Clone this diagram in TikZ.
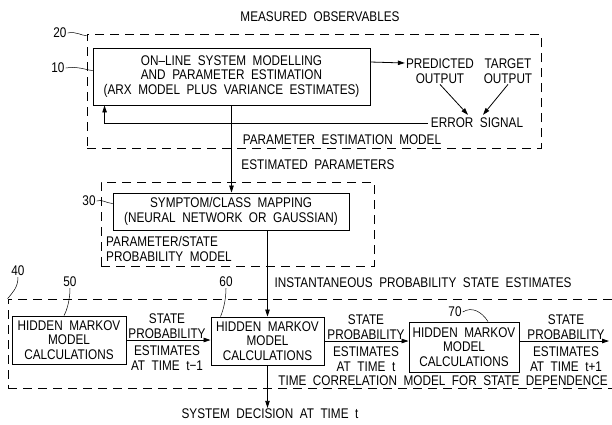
\documentclass[tikz,border=0pt]{standalone}
\usepackage{fontspec}
\setmainfont{Liberation Sans}[FakeStretch=0.84, WordSpace=2]
\usetikzlibrary{arrows.meta, positioning}
\tikzset{
  block/.style={rectangle, draw, line width=0.9pt, align=center, inner sep=2pt},
  dashbox/.style={rectangle, draw, dash pattern=on 9pt off 6pt, line width=0.8pt},
  lbl/.style={align=center, inner sep=1pt},
  arrow/.style={-{Triangle[length=7pt,width=4.5pt]}, line width=0.8pt},
  lead/.style={line width=0.5pt},
}

\begin{document}
\begin{tikzpicture}[x=1pt, y=-1pt, font=\fontsize{14}{14.5}\selectfont]
  \useasboundingbox (0,0) rectangle (612,424);
  % parameter estimation model
  \node[lbl] (meas) at (320,17) {MEASURED OBSERVABLES};
  \node[dashbox, minimum width=454, minimum height=114] (b20) at (314,91) {};
  \node[block, minimum width=277, minimum height=57] (b10) at (231.5,76.5)
    {ON–LINE SYSTEM MODELLING\\AND PARAMETER ESTIMATION\\(ARX MODEL PLUS VARIANCE ESTIMATES)};
  \node[lbl] (pred) at (440,71) {PREDICTED\\OUTPUT};
  \node[lbl] (targ) at (508,71) {TARGET\\OUTPUT};
  \node[lbl] (err) at (477,123) {ERROR SIGNAL};
  \node[lbl] (pem) at (342,140) {PARAMETER ESTIMATION MODEL};
  \node[lbl] (l20) at (60,33) {20};
  \node[lbl] (l10) at (58,68) {10};

  \draw[arrow] ([yshift=14.5pt]b10.east) -- ([yshift=8pt]pred.west);
  \draw[arrow] (pred.south) -- ([xshift=-9pt,yshift=2pt]err.north);
  \draw[arrow] (targ.south) -- ([xshift=6pt,yshift=2pt]err.north);
  \draw[arrow] ([xshift=-2pt]err.west) -| ([xshift=12pt]b10.south west);
  \draw[lead] (l20.east) .. controls (76,31) and (82,36) .. ([yshift=-2pt]b20.north west);
  \draw[lead] (l10.east) .. controls (78,66) and (86,70) .. ([yshift=6pt]b10.west);

  % state probability model
  \node[lbl] (estp) at (318,165) {ESTIMATED PARAMETERS};
  \node[dashbox, minimum width=273, minimum height=84] (b30) at (237.5,224) {};
  \node[block, minimum width=236, minimum height=37] (sym) at (231,211.5)
    {SYMPTOM/CLASS MAPPING\\(NEURAL NETWORK OR GAUSSIAN)};
  \node[lbl, align=left, anchor=west] (psm) at (105,249) {PARAMETER/STATE\\PROBABILITY MODEL};
  \node[lbl] (l30) at (89,201) {30};

  \draw[arrow] (b10.south) -- (b10.south |- sym.north);
  \draw[lead] (l30.east) .. controls (102,199) and (106,203) .. ([yshift=8pt]sym.west);

  % time correlation model
  \node[lbl] (inst) at (423,283) {INSTANTANEOUS PROBABILITY STATE ESTIMATES};
  \node[dashbox, minimum width=640, minimum height=89] (b40) at (328,343.5) {};
  \node[block, minimum width=114, minimum height=48] (h50) at (69,340)
    {HIDDEN MARKOV\\MODEL\\CALCULATIONS};
  \node[block, minimum width=113, minimum height=48] (h60) at (267.5,341)
    {HIDDEN MARKOV\\MODEL\\CALCULATIONS};
  \node[block, minimum width=110, minimum height=50] (h70) at (464,347)
    {HIDDEN MARKOV\\MODEL\\CALCULATIONS};
  \coordinate (out) at (609,341);
  \node[lbl] (sp1) at (167,326) {STATE\\PROBABILITY};
  \node[lbl] (es1) at (167,358) {ESTIMATES\\AT TIME t−1};
  \node[lbl] (sp2) at (366,327) {STATE\\PROBABILITY};
  \node[lbl] (es2) at (366,359) {ESTIMATES\\AT TIME t};
  \node[lbl] (sp3) at (566,327) {STATE\\PROBABILITY};
  \node[lbl] (es3) at (566,359) {ESTIMATES\\AT TIME t+1};
  \node[lbl] (tcm) at (443,381) {TIME CORRELATION MODEL FOR STATE DEPENDENCE};
  \node[lbl] (dec) at (270,414) {SYSTEM DECISION AT TIME t};
  \node[lbl] (l40) at (18,271) {40};
  \node[lbl] (l50) at (70,282) {50};
  \node[lbl] (l60) at (226,282) {60};
  \node[lbl] (l70) at (455,312) {70};

  \draw[arrow] (h60.north |- sym.south) -- (h60.north);
  \draw[arrow] (h50.east) -- (h50.east -| h60.west);
  \draw[arrow] (h60.east) -- (h60.east -| h70.west);
  \draw[arrow] (h70.east |- out) -- (out);
  \draw[arrow] (h60.south) -- (h60.south |- dec.north);
  \draw[lead] (l40.south) .. controls (18,288) and (12,293) .. (b40.north west);
  \draw[lead] (l50.south) .. controls (70,300) and (67,310) .. ([xshift=-5pt]h50.north);
  \draw[lead] (l60.south) .. controls (226,300) and (223,311) .. ([xshift=-47pt]h60.north);
  \draw[lead] (l70.east) .. controls (472,306) and (482,312) .. ([xshift=24pt]h70.north);
\end{tikzpicture}
\end{document}
